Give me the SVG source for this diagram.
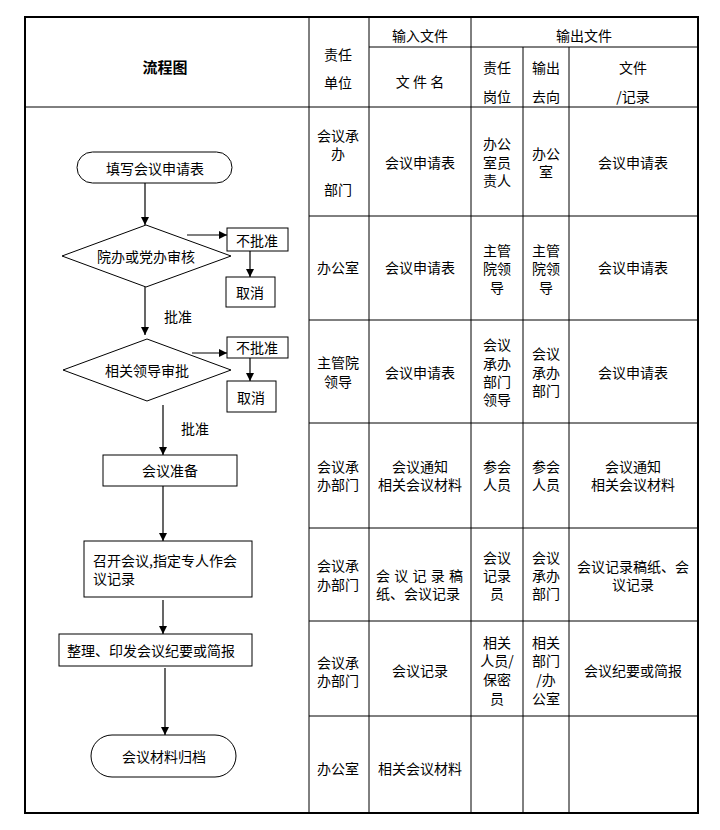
<svg xmlns="http://www.w3.org/2000/svg" width="720" height="830" viewBox="0 0 720 830">
<style>
text{font-family:"Noto Sans CJK SC","Liberation Sans",sans-serif;font-size:14px;fill:#000;text-anchor:middle;dominant-baseline:central}
.l{text-anchor:start}
.b{font-weight:bold;font-size:15px}
.g{stroke:#000;stroke-width:1;fill:none}
.bd{stroke:#000;stroke-width:2;fill:none}
.n{fill:#fff;stroke:#000;stroke-width:1}
.c{stroke:#000;stroke-width:1.2;fill:none;marker-end:url(#ah)}
</style>
<defs>
<marker id="ah" viewBox="0 0 10 10" refX="10" refY="5" markerWidth="8" markerHeight="8" markerUnits="userSpaceOnUse" orient="auto">
<path d="M0,0L10,5L0,10z" fill="#000"/>
</marker>
</defs>
<rect width="720" height="830" fill="#fff"/>
<g id="table">
<rect class="bd" x="25" y="17" width="673" height="796"/>
<line class="g" x1="309" y1="17" x2="309" y2="813"/>
<line class="g" x1="369" y1="17" x2="369" y2="813"/>
<line class="g" x1="471" y1="17" x2="471" y2="813"/>
<line class="g" x1="523" y1="47" x2="523" y2="813"/>
<line class="g" x1="569" y1="47" x2="569" y2="813"/>
<line class="g" x1="369" y1="47" x2="698" y2="47"/>
<line class="g" x1="25" y1="107" x2="698" y2="107"/>
<line class="g" x1="309" y1="216" x2="698" y2="216"/>
<line class="g" x1="309" y1="320" x2="698" y2="320"/>
<line class="g" x1="309" y1="423" x2="698" y2="423"/>
<line class="g" x1="309" y1="528" x2="698" y2="528"/>
<line class="g" x1="309" y1="621" x2="698" y2="621"/>
<line class="g" x1="309" y1="716" x2="698" y2="716"/>
<text class="b" x="165" y="66">流程图</text>
<text x="338" y="54">责任</text>
<text x="338" y="82">单位</text>
<text x="420" y="35">输入文件</text>
<text x="584" y="35">输出文件</text>
<text x="420" y="81">文 件 名</text>
<text x="497" y="67">责任</text>
<text x="497" y="96">岗位</text>
<text x="546" y="67">输出</text>
<text x="546" y="96">去向</text>
<text x="633" y="67">文件</text>
<text x="633" y="96">/记录</text>
<!-- row 1 -->
<text x="338" y="135">会议承</text>
<text x="338" y="153">办</text>
<text x="338" y="189">部门</text>
<text x="420" y="162">会议申请表</text>
<text x="497" y="143">办公</text>
<text x="497" y="162">室员</text>
<text x="497" y="180">责人</text>
<text x="546" y="153">办公</text>
<text x="546" y="171">室</text>
<text x="633" y="162">会议申请表</text>
<!-- row 2 -->
<text x="338" y="267">办公室</text>
<text x="420" y="267">会议申请表</text>
<text x="497" y="250">主管</text>
<text x="497" y="268">院领</text>
<text x="497" y="287">导</text>
<text x="546" y="250">主管</text>
<text x="546" y="268">院领</text>
<text x="546" y="287">导</text>
<text x="633" y="267">会议申请表</text>
<!-- row 3 -->
<text x="338" y="362">主管院</text>
<text x="338" y="381">领导</text>
<text x="420" y="372">会议申请表</text>
<text x="497" y="344">会议</text>
<text x="497" y="363">承办</text>
<text x="497" y="381">部门</text>
<text x="497" y="399">领导</text>
<text x="546" y="353">会议</text>
<text x="546" y="372">承办</text>
<text x="546" y="390">部门</text>
<text x="633" y="372">会议申请表</text>
<!-- row 4 -->
<text x="338" y="466">会议承</text>
<text x="338" y="484">办部门</text>
<text x="420" y="466">会议通知</text>
<text x="420" y="484">相关会议材料</text>
<text x="497" y="466">参会</text>
<text x="497" y="484">人员</text>
<text x="546" y="466">参会</text>
<text x="546" y="484">人员</text>
<text x="633" y="466">会议通知</text>
<text x="633" y="484">相关会议材料</text>
<!-- row 5 -->
<text x="338" y="565">会议承</text>
<text x="338" y="584">办部门</text>
<text class="l" x="376" y="575" textLength="87" lengthAdjust="spacing">会议记录稿</text>
<text class="l" x="376" y="593">纸、会议记录</text>
<text x="497" y="557">会议</text>
<text x="497" y="575">记录</text>
<text x="497" y="593">员</text>
<text x="546" y="557">会议</text>
<text x="546" y="575">承办</text>
<text x="546" y="593">部门</text>
<text x="633" y="566">会议记录稿纸、会</text>
<text x="633" y="584">议记录</text>
<!-- row 6 -->
<text x="338" y="662">会议承</text>
<text x="338" y="680">办部门</text>
<text x="420" y="670">会议记录</text>
<text x="497" y="642">相关</text>
<text x="497" y="660">人员/</text>
<text x="497" y="679">保密</text>
<text x="497" y="698">员</text>
<text x="546" y="642">相关</text>
<text x="546" y="660">部门</text>
<text x="546" y="679">/办</text>
<text x="546" y="698">公室</text>
<text x="633" y="670">会议纪要或简报</text>
<!-- row 7 -->
<text x="338" y="768">办公室</text>
<text x="420" y="768">相关会议材料</text>
</g>
<g id="connectors">
<line class="c" x1="145" y1="183" x2="145" y2="225"/>
<line class="c" x1="187" y1="235" x2="227" y2="235"/>
<line class="c" x1="250" y1="251" x2="250" y2="277"/>
<line class="c" x1="145" y1="287" x2="145" y2="335"/>
<line class="c" x1="192" y1="353" x2="227" y2="353"/>
<line class="c" x1="250" y1="358" x2="250" y2="381"/>
<line class="c" x1="163" y1="405" x2="163" y2="455"/>
<line class="c" x1="163" y1="486" x2="163" y2="541"/>
<line class="c" x1="163" y1="600" x2="163" y2="634"/>
<line class="c" x1="165" y1="668" x2="165" y2="735" stroke="#444"/>
<text x="178" y="316">批准</text>
<text x="195" y="428">批准</text>
</g>
<g id="start">
<rect class="n" x="77" y="152" width="155" height="31" rx="15.5"/>
<text x="155" y="168">填写会议申请表</text>
</g>
<g id="review1">
<polygon class="n" points="146,225 231,256 146,287 62,256"/>
<text x="146" y="256">院办或党办审核</text>
</g>
<g id="reject1">
<rect class="n" x="227" y="228" width="61" height="23"/>
<text x="257" y="240">不批准</text>
</g>
<g id="cancel1">
<rect class="n" x="226" y="277" width="49" height="30"/>
<text x="250" y="292">取消</text>
</g>
<g id="review2">
<polygon class="n" points="147,339 231,370 147,401 63,370"/>
<text x="147" y="370">相关领导审批</text>
</g>
<g id="reject2">
<rect class="n" x="227" y="337" width="61" height="21"/>
<text x="257" y="347">不批准</text>
</g>
<g id="cancel2">
<rect class="n" x="227" y="381" width="49" height="31"/>
<text x="251" y="397">取消</text>
</g>
<g id="prepare">
<rect class="n" x="103" y="455" width="134" height="31"/>
<text x="170" y="470">会议准备</text>
</g>
<g id="meeting">
<rect class="n" x="84" y="541" width="168" height="56"/>
<text class="l" x="93" y="560">召开会议,指定专人作会</text>
<text class="l" x="93" y="578">议记录</text>
</g>
<g id="summary">
<rect class="n" x="59" y="634" width="193" height="32"/>
<text class="l" x="67" y="650">整理、印发会议纪要或简报</text>
</g>
<g id="archive">
<rect class="n" x="91" y="735" width="145" height="42" rx="21"/>
<text x="164" y="756">会议材料归档</text>
</g>
</svg>
